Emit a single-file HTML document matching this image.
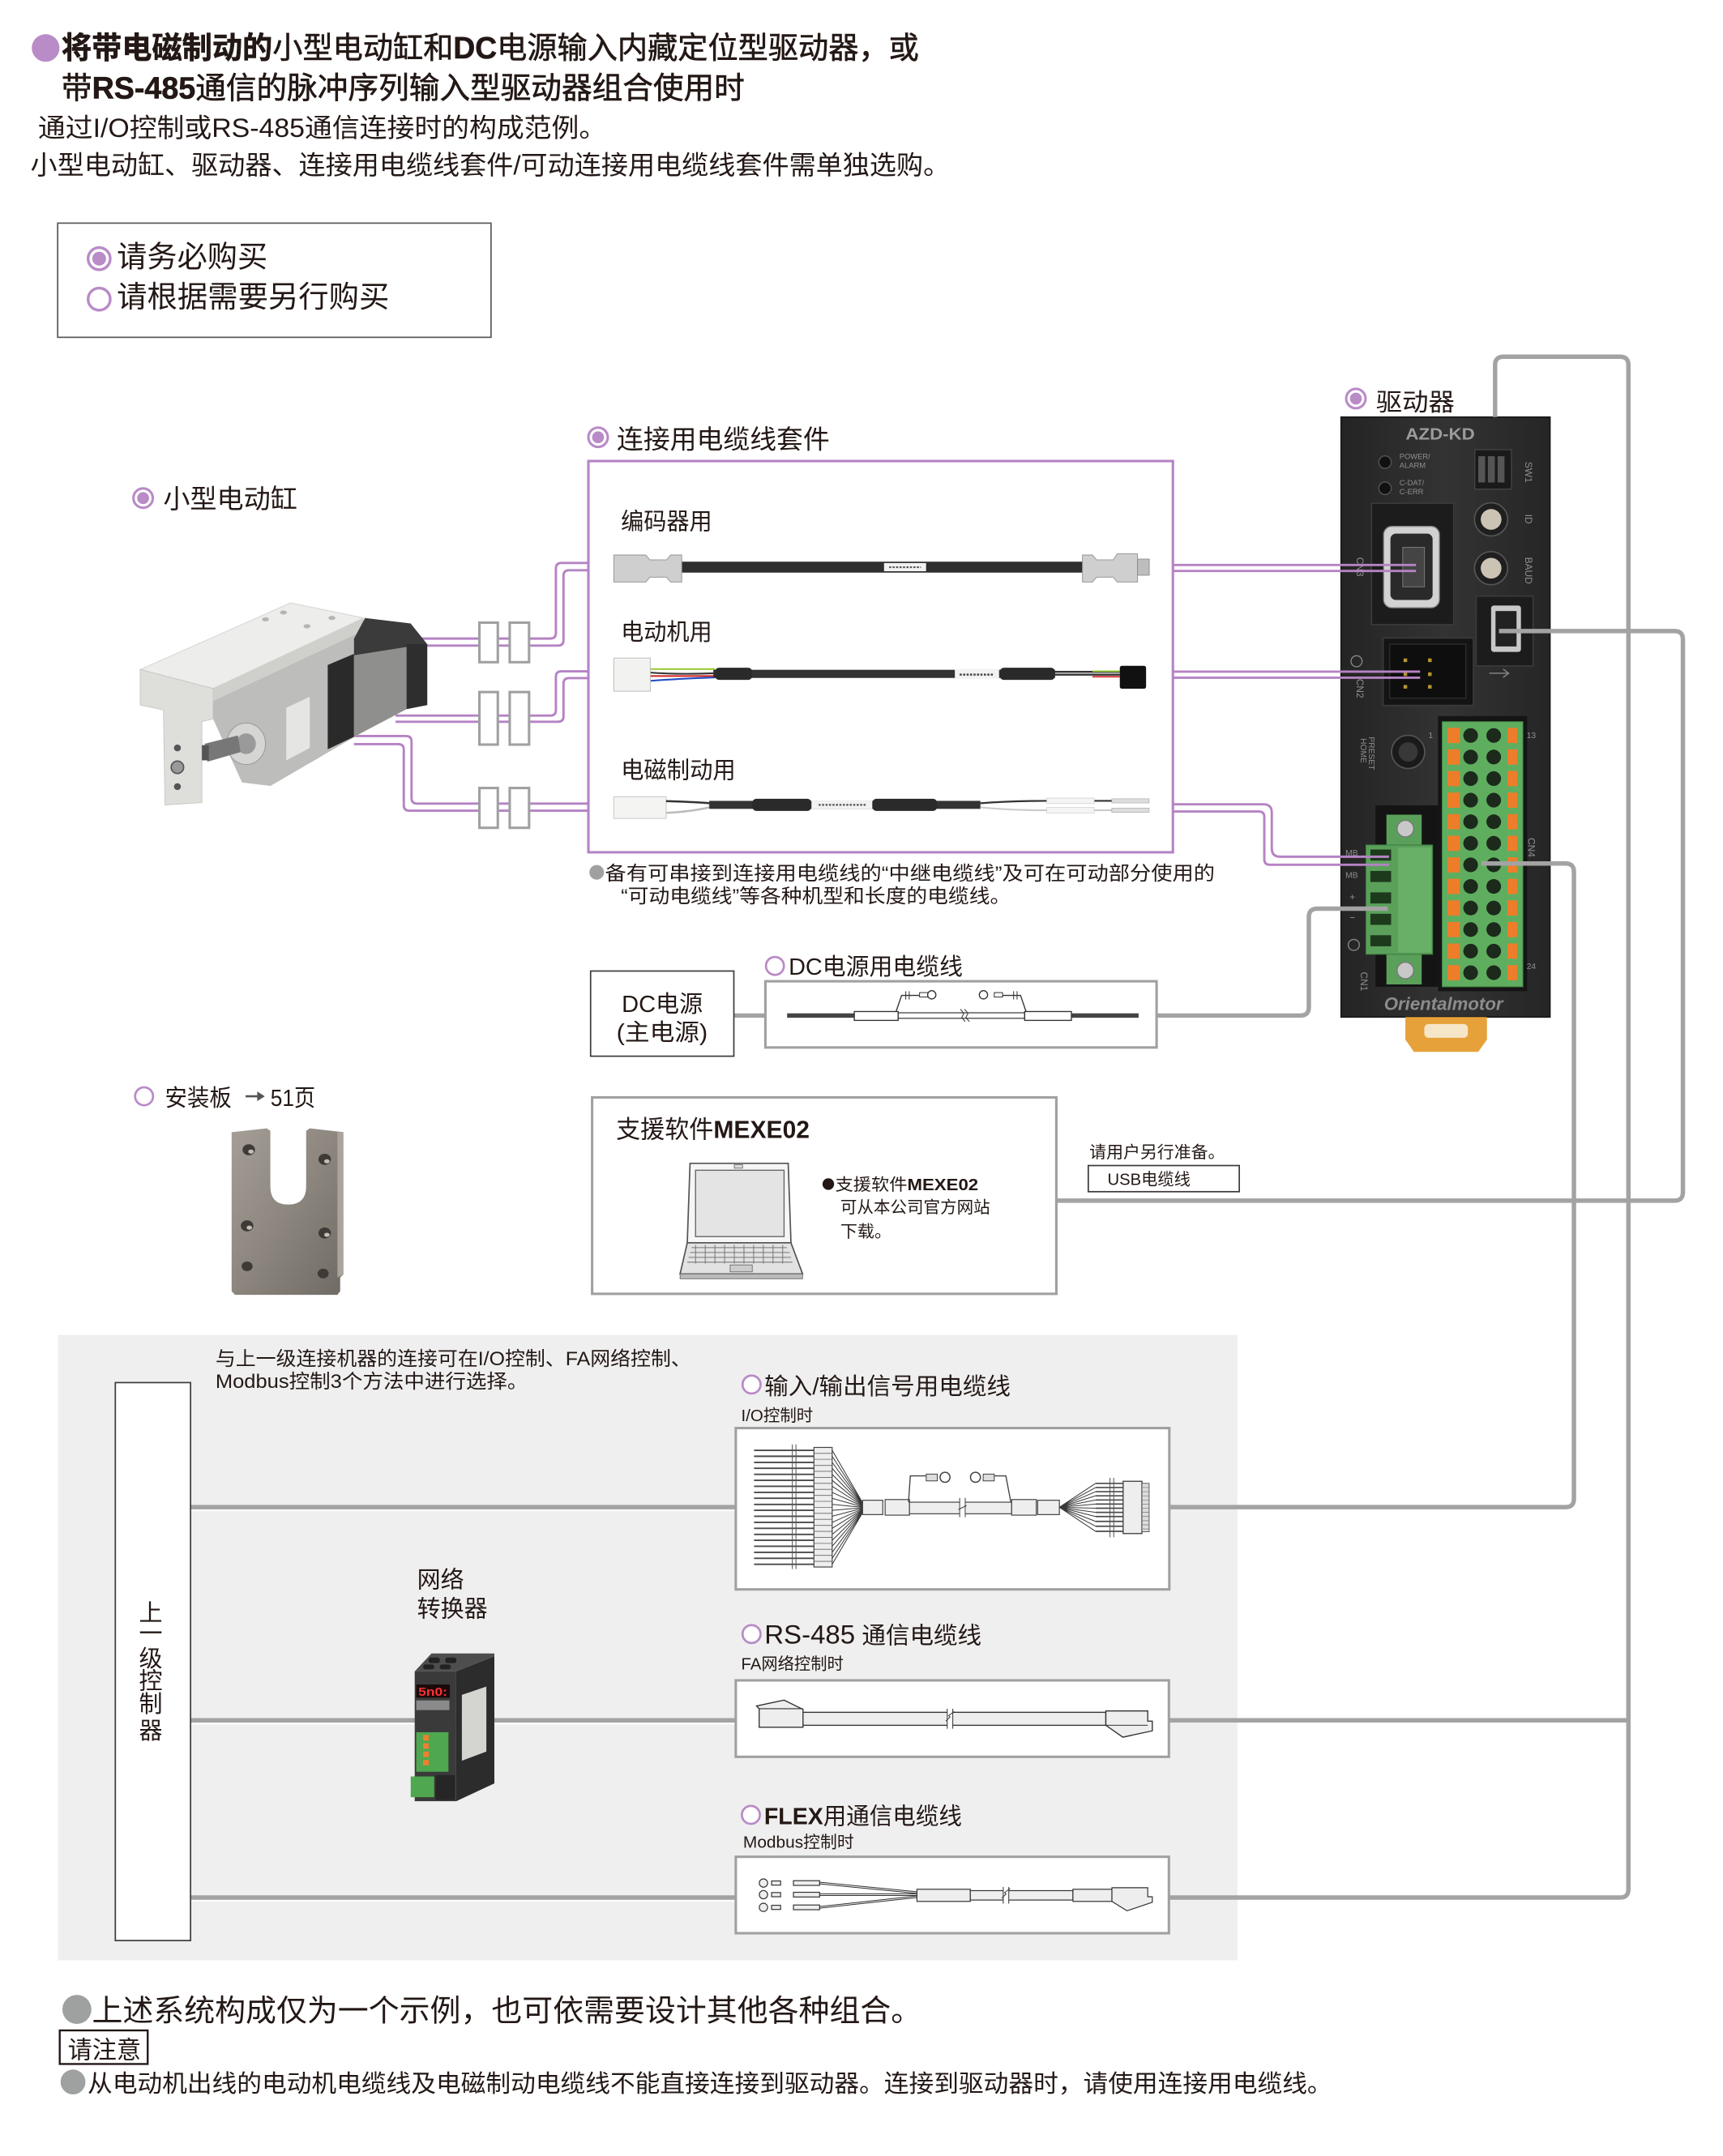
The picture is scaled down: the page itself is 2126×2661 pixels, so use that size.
<!DOCTYPE html>
<html><head><meta charset="utf-8">
<style>
html,body{margin:0;padding:0;background:#fff;}
svg{display:block}
text{font-family:"Liberation Sans","Noto Sans CJK SC",sans-serif;fill:#231815;}
.b{font-weight:bold}
.sm{fill:#8f8f8f;font-family:"Liberation Sans",sans-serif;}
.ln{fill:none;stroke:#444;stroke-width:0.8}
</style></head><body>
<svg xmlns="http://www.w3.org/2000/svg" width="2126" height="2661" viewBox="0 0 1246 1559.55" preserveAspectRatio="none">
<defs>
<linearGradient id="plate" x1="0" y1="0" x2="1" y2="1">
<stop offset="0" stop-color="#a49e96"/><stop offset="0.5" stop-color="#8c867e"/><stop offset="1" stop-color="#6f6a63"/>
</linearGradient>
<linearGradient id="drv" x1="0" y1="0" x2="1" y2="0">
<stop offset="0" stop-color="#242424"/><stop offset="0.5" stop-color="#333"/><stop offset="1" stop-color="#262626"/>
</linearGradient>
</defs>
<rect x="0" y="0" width="1246" height="1560" fill="#fff"/>

<!-- HEADER -->
<circle cx="33" cy="34.7" r="10" fill="#b98bc7"/>
<text x="44.5" y="42.3" font-size="22" textLength="620" lengthAdjust="spacingAndGlyphs" stroke="#231815" stroke-width="0.35"><tspan font-weight="bold">将带电磁制动的</tspan>小型电动缸和<tspan font-weight="bold">DC</tspan>电源输入内藏定位型驱动器，或</text>
<text x="44.5" y="71.3" font-size="22" textLength="494" lengthAdjust="spacingAndGlyphs" stroke="#231815" stroke-width="0.35">带<tspan font-weight="bold">RS-485</tspan>通信的脉冲序列输入型驱动器组合使用时</text>
<text x="27.5" y="99" font-size="19" textLength="411" lengthAdjust="spacingAndGlyphs">通过I/O控制或RS-485通信连接时的构成范例。</text>
<text x="22" y="126" font-size="19" textLength="665" lengthAdjust="spacingAndGlyphs">小型电动缸、驱动器、连接用电缆线套件/可动连接用电缆线套件需单独选购。</text>

<!-- LEGEND -->
<rect x="41.7" y="161.4" width="313.4" height="82.6" fill="none" stroke="#595757" stroke-width="1"/>
<circle cx="71.7" cy="187.1" r="8" fill="#fff" stroke="#b98bc7" stroke-width="2"/>
<circle cx="71.7" cy="187.1" r="5" fill="#b98bc7"/>
<text x="84.5" y="193" font-size="21.5" textLength="109" lengthAdjust="spacingAndGlyphs">请务必购买</text>
<circle cx="71.7" cy="216.4" r="8" fill="#fff" stroke="#b98bc7" stroke-width="2"/>
<text x="84.5" y="222" font-size="21.5" textLength="197" lengthAdjust="spacingAndGlyphs">请根据需要另行购买</text>

<!-- GRAY AREA -->
<rect x="41.9" y="965.7" width="853" height="452.3" fill="#efefef"/>

<!-- DRIVER -->
<rect x="969.8" y="301.7" width="151.1" height="434" fill="url(#drv)" stroke="#181818" stroke-width="1"/>
<text x="1041.5" y="318" font-size="12" font-weight="bold" text-anchor="middle" textLength="50" lengthAdjust="spacingAndGlyphs" style="fill:#9c9c9c">AZD-KD</text>
<circle cx="1001.6" cy="334.3" r="4.5" fill="#111" stroke="#555" stroke-width="0.8"/>
<circle cx="1001.6" cy="353.2" r="4.5" fill="#111" stroke="#555" stroke-width="0.8"/>
<text class="sm" x="1012" y="332" font-size="5.5">POWER/</text>
<text class="sm" x="1012" y="338.5" font-size="5.5">ALARM</text>
<text class="sm" x="1012" y="351" font-size="5.5">C-DAT/</text>
<text class="sm" x="1012" y="357.5" font-size="5.5">C-ERR</text>
<rect x="1066.5" y="325.3" width="26.5" height="28.5" fill="#1a1a1a" stroke="#444" stroke-width="0.8"/>
<rect x="1069" y="330" width="5" height="19" fill="#555"/><rect x="1076" y="330" width="5" height="19" fill="#555"/><rect x="1083" y="330" width="5" height="19" fill="#555"/>
<text class="sm" font-size="7" transform="translate(1103,334) rotate(90)">SW1</text>
<circle cx="1078.3" cy="375.7" r="12" fill="#1f1f1f" stroke="#555" stroke-width="1"/>
<circle cx="1078.3" cy="375.7" r="7.5" fill="#cbc4b4"/>
<circle cx="1078.3" cy="411" r="12" fill="#1f1f1f" stroke="#555" stroke-width="1"/>
<circle cx="1078.3" cy="411" r="7.5" fill="#cbc4b4"/>
<text class="sm" font-size="7" transform="translate(1103,372) rotate(90)">ID</text>
<text class="sm" font-size="7" transform="translate(1103,403) rotate(90)">BAUD</text>
<rect x="991.8" y="364" width="59.5" height="87.8" fill="#1c1c1c" stroke="#3a3a3a" stroke-width="1"/>
<rect x="1000.6" y="380.8" width="40.3" height="58.8" rx="6" fill="#d2d2d2" stroke="#888" stroke-width="0.8"/>
<rect x="1005.5" y="386" width="30.5" height="48" rx="4" fill="#2a2a2a"/>
<rect x="1014.4" y="395.9" width="15.7" height="28.6" fill="#444" stroke="#777" stroke-width="0.6"/>
<text class="sm" font-size="7" transform="translate(981,403) rotate(90)">CN3</text>
<rect x="1067.5" y="431.2" width="41.2" height="50.5" fill="#1c1c1c" stroke="#3a3a3a" stroke-width="1"/>
<rect x="1078.3" y="438" width="21.6" height="33.6" rx="2" fill="#c8c8c8"/>
<rect x="1081.5" y="442" width="15.2" height="25.6" fill="#222"/>
<path d="M1077,487H1091M1087,484L1091,487L1087,490" stroke="#888" stroke-width="0.8" fill="none"/>
<rect x="1000.2" y="461.5" width="65.3" height="48.8" fill="#141414" stroke="#3a3a3a" stroke-width="1"/>
<rect x="1005" y="466" width="55" height="39" fill="#0e0e0e" stroke="#2c2c2c" stroke-width="0.8"/>
<g fill="#b8962e"><rect x="1015" y="476.3" width="2.6" height="2.6"/><rect x="1032.7" y="476.3" width="2.6" height="2.6"/><rect x="1015" y="486.4" width="2.6" height="2.6"/><rect x="1032.7" y="486.4" width="2.6" height="2.6"/><rect x="1015" y="495.5" width="2.6" height="2.6"/><rect x="1032.7" y="495.5" width="2.6" height="2.6"/></g>
<circle cx="981" cy="478.3" r="4" fill="none" stroke="#888" stroke-width="0.8"/>
<text class="sm" font-size="7" transform="translate(981,491) rotate(90)">CN2</text>
<circle cx="1018.3" cy="543.9" r="12" fill="#1a1a1a" stroke="#555" stroke-width="1"/>
<circle cx="1018.3" cy="543.9" r="7" fill="#383838"/>
<text class="sm" font-size="6" transform="translate(984,534) rotate(90)">HOME</text>
<text class="sm" font-size="6" transform="translate(990,533) rotate(90)">PRESET</text>
<rect x="994.7" y="582.6" width="45.2" height="131.2" fill="#141414"/>
<rect x="1002.6" y="589.3" width="25.5" height="22" fill="#5aa05a"/>
<rect x="1002.6" y="690.3" width="25.5" height="21.8" fill="#5aa05a"/>
<circle cx="1016.3" cy="599.4" r="6" fill="#c8c8c8" stroke="#777" stroke-width="0.8"/>
<circle cx="1016.3" cy="702" r="6" fill="#c8c8c8" stroke="#777" stroke-width="0.8"/>
<rect x="987.8" y="611.2" width="48.2" height="79.1" fill="#5aa05a" stroke="#3d7a3d" stroke-width="0.6"/>
<rect x="1011" y="613" width="24" height="76" fill="#68b068"/>
<g fill="#1d3a1d"><rect x="991" y="614.5" width="15" height="8"/><rect x="991" y="630" width="15" height="8"/><rect x="991" y="645.5" width="15" height="8"/><rect x="991" y="661" width="15" height="8"/><rect x="991" y="676.5" width="15" height="8"/></g>
<text class="sm" x="973" y="619" font-size="6">MB</text>
<text class="sm" x="973" y="635" font-size="6">MB</text>
<text class="sm" x="976" y="651" font-size="7">+</text>
<text class="sm" x="976" y="666" font-size="7">−</text>
<circle cx="979" cy="683.5" r="4" fill="none" stroke="#888" stroke-width="0.8"/>
<text class="sm" font-size="7" transform="translate(984,703) rotate(90)">CN1</text>
<rect x="1039.9" y="518" width="64.5" height="199" fill="#151515"/>
<rect x="1042.9" y="522" width="58.4" height="191.8" fill="#5fae5f" stroke="#3f7f3f" stroke-width="0.6"/>
<g fill="#ee7d2a">
<rect x="1046.8" y="526.5" width="8.9" height="11"/><rect x="1046.8" y="542.1" width="8.9" height="11"/><rect x="1046.8" y="557.7" width="8.9" height="11"/><rect x="1046.8" y="573.3" width="8.9" height="11"/><rect x="1046.8" y="588.9" width="8.9" height="11"/><rect x="1046.8" y="604.5" width="8.9" height="11"/><rect x="1046.8" y="620.1" width="8.9" height="11"/><rect x="1046.8" y="635.7" width="8.9" height="11"/><rect x="1046.8" y="651.3" width="8.9" height="11"/><rect x="1046.8" y="666.9" width="8.9" height="11"/><rect x="1046.8" y="682.5" width="8.9" height="11"/><rect x="1046.8" y="698.1" width="8.9" height="11"/>
<rect x="1090.1" y="526.5" width="7" height="11"/><rect x="1090.1" y="542.1" width="7" height="11"/><rect x="1090.1" y="557.7" width="7" height="11"/><rect x="1090.1" y="573.3" width="7" height="11"/><rect x="1090.1" y="588.9" width="7" height="11"/><rect x="1090.1" y="604.5" width="7" height="11"/><rect x="1090.1" y="620.1" width="7" height="11"/><rect x="1090.1" y="635.7" width="7" height="11"/><rect x="1090.1" y="651.3" width="7" height="11"/><rect x="1090.1" y="666.9" width="7" height="11"/><rect x="1090.1" y="682.5" width="7" height="11"/><rect x="1090.1" y="698.1" width="7" height="11"/>
</g>
<g fill="#1c2a1c">
<circle cx="1063.5" cy="532" r="5.3"/><circle cx="1063.5" cy="547.6" r="5.3"/><circle cx="1063.5" cy="563.2" r="5.3"/><circle cx="1063.5" cy="578.8" r="5.3"/><circle cx="1063.5" cy="594.4" r="5.3"/><circle cx="1063.5" cy="610" r="5.3"/><circle cx="1063.5" cy="625.6" r="5.3"/><circle cx="1063.5" cy="641.2" r="5.3"/><circle cx="1063.5" cy="656.8" r="5.3"/><circle cx="1063.5" cy="672.4" r="5.3"/><circle cx="1063.5" cy="688" r="5.3"/><circle cx="1063.5" cy="703.6" r="5.3"/>
<circle cx="1080.2" cy="532" r="5.3"/><circle cx="1080.2" cy="547.6" r="5.3"/><circle cx="1080.2" cy="563.2" r="5.3"/><circle cx="1080.2" cy="578.8" r="5.3"/><circle cx="1080.2" cy="594.4" r="5.3"/><circle cx="1080.2" cy="610" r="5.3"/><circle cx="1080.2" cy="625.6" r="5.3"/><circle cx="1080.2" cy="641.2" r="5.3"/><circle cx="1080.2" cy="656.8" r="5.3"/><circle cx="1080.2" cy="672.4" r="5.3"/><circle cx="1080.2" cy="688" r="5.3"/><circle cx="1080.2" cy="703.6" r="5.3"/>
</g>
<text class="sm" x="1033" y="534" font-size="6">1</text>
<text class="sm" x="1104" y="534" font-size="6">13</text>
<text class="sm" x="1104" y="701" font-size="6">24</text>
<text class="sm" font-size="7" transform="translate(1105,606) rotate(90)">CN4</text>
<text x="1043.9" y="730.5" font-size="13" font-weight="bold" font-style="italic" text-anchor="middle" textLength="86" lengthAdjust="spacingAndGlyphs" style="fill:#8c8c8c">Orientalmotor</text>
<path d="M1016.3,735.7H1075.3V752L1069,760.9H1022.5L1016.3,752Z" fill="#e6a13a"/>
<rect x="1030" y="740.7" width="31.5" height="10" rx="3" fill="#f6e6c8"/>

<!-- GRAY CONNECTORS -->
<g fill="none" stroke="#a3a3a3" stroke-width="3.2">
<path d="M1081.2,301.7V264Q1081.2,258 1087.2,258H1171.6Q1177.6,258 1177.6,264V1366.6Q1177.6,1372.6 1171.6,1372.6H845.6"/>
<path d="M845.6,1244.4H1177.6"/>
<path d="M1084,456.5H1211Q1217,456.5 1217,462.5V862.5Q1217,868.5 1211,868.5H763.9"/>
<path d="M1071.4,624.6H1132.2Q1138.2,624.6 1138.2,630.6V1084.2Q1138.2,1090.2 1132.2,1090.2H845.6"/>
<path d="M836.4,734.6H940.5Q946.5,734.6 946.5,728.6V663.3Q946.5,657.3 952.5,657.3H1003.6"/>
<path d="M530.7,734.6H553.5"/>
<path d="M137.8,1090.2H532.6"/>
<path d="M137.8,1244.4H532.6"/>
<path d="M137.8,1372.6H532.6"/>
</g>
<g fill="none" stroke="#fff" stroke-width="1">
<path d="M137.8,1092.6H532.6"/><path d="M137.8,1246.8H532.6"/><path d="M137.8,1375H532.6"/>
</g>

<!-- PURPLE CONNECTORS -->
<g fill="none" stroke="#b583c4" stroke-width="1.7">
<path d="M305,461.9H346.7M360,461.9H368.6M382.6,461.9H398Q402,461.9 402,457.9V411.2Q402,407.2 406,407.2H425.5"/>
<path d="M305,467H346.7M360,467H368.6M382.6,467H403.5Q407.5,467 407.5,463V416.5Q407.5,412.5 411.5,412.5H425.5"/>
<path d="M286,517.6H346.7M360,517.6H368.6M382.6,517.6H398Q402,517.6 402,513.6V489.6Q402,485.6 406,485.6H425.5"/>
<path d="M286,522.1H346.7M360,522.1H368.6M382.6,522.1H403.5Q407.5,522.1 407.5,518.1V494.5Q407.5,490.5 411.5,490.5H425.5"/>
<path d="M256,532.4H293.6Q297.6,532.4 297.6,536.4V577.3Q297.6,581.3 301.6,581.3H346.7M360,581.3H368.6M382.6,581.3H425.5"/>
<path d="M256,538.3H288Q292,538.3 292,542.3V582.4Q292,586.4 296,586.4H346.7M360,586.4H368.6M382.6,586.4H425.5"/>
<path d="M848.2,408.7H1024"/>
<path d="M848.2,413H1024"/>
<path d="M848.2,485.8H1027"/>
<path d="M848.2,490.2H1027"/>
<path d="M848.2,581.8H913.7Q919.7,581.8 919.7,587.8V613.7Q919.7,619.7 925.7,619.7H1004.5"/>
<path d="M848.2,587H910.3Q914.3,587 914.3,591V621.5Q914.3,625.5 918.3,625.5H1004.5"/>
</g>

<!-- ACTUATOR -->
<polygon points="101.4,484.3 210.1,436.1 263,447 154.1,498" fill="#ededeb" stroke="#d0d0ce" stroke-width="0.5"/>
<polygon points="101.4,484.3 154.1,498 154.1,520 146,522 146,580.6 119.3,582.3 118.2,513.5 101.4,510" fill="#dededa" stroke="#c4c4c0" stroke-width="0.5"/>
<polygon points="154.1,498 263,447 263,456 154.1,507" fill="#cfcfcc"/>
<polygon points="154.1,507 263,456 296,466 296,510 195.6,568.5 175,566 154.1,520" fill="#bdbdbb"/>
<polygon points="237,481 256,473 256,533 237,542" fill="#2a2a2a"/>
<polygon points="256,473 294,466 294,513 256,533" fill="#8f8f8d"/>
<polygon points="256,462 264,447 297,451 309,466 294,468 256,474" fill="#3b3b3b"/>
<polygon points="294,466 309,466 309,510 294,513" fill="#2e2e2e"/>
<polygon points="207,512 224,504 224,541 207,550" fill="#e5e5e3"/>
<ellipse cx="178" cy="538" rx="14" ry="15" fill="#d5d5d3" stroke="#999" stroke-width="0.6"/>
<ellipse cx="178" cy="538" rx="7" ry="7.5" fill="#9a9a9a"/>
<polygon points="148,538 172,532 174,544 150,551" fill="#777"/>
<rect x="146" y="539" width="5" height="11" fill="#555"/>
<circle cx="128.3" cy="541" r="2.5" fill="#555"/>
<circle cx="128.3" cy="555" r="4.5" fill="#999" stroke="#555" stroke-width="1"/>
<circle cx="128.3" cy="569" r="2.5" fill="#555"/>
<g fill="#b5b5b3"><ellipse cx="192" cy="448" rx="2.5" ry="1.5"/><ellipse cx="205" cy="443" rx="2.5" ry="1.5"/><ellipse cx="222" cy="453" rx="2.5" ry="1.5"/><ellipse cx="240" cy="447" rx="2.5" ry="1.5"/></g>

<!-- LABELS: actuator / kit / driver -->
<circle cx="103.5" cy="360.3" r="7" fill="#fff" stroke="#b98bc7" stroke-width="1.8"/>
<circle cx="103.5" cy="360.3" r="4.3" fill="#b98bc7"/>
<text x="118" y="367.5" font-size="19" textLength="97" lengthAdjust="spacingAndGlyphs">小型电动缸</text>
<circle cx="432.5" cy="316.3" r="7" fill="#fff" stroke="#b98bc7" stroke-width="1.8"/>
<circle cx="432.5" cy="316.3" r="4.3" fill="#b98bc7"/>
<text x="446" y="324.5" font-size="19" textLength="154" lengthAdjust="spacingAndGlyphs">连接用电缆线套件</text>
<circle cx="980.5" cy="288.3" r="7" fill="#fff" stroke="#b98bc7" stroke-width="1.8"/>
<circle cx="980.5" cy="288.3" r="4.3" fill="#b98bc7"/>
<text x="995" y="297" font-size="18" textLength="57" lengthAdjust="spacingAndGlyphs">驱动器</text>

<!-- KIT BOX -->
<rect x="425.5" y="333.5" width="422.7" height="283" fill="#fff" stroke="#b583c4" stroke-width="1.8"/>
<text x="449" y="383" font-size="17" textLength="66" lengthAdjust="spacingAndGlyphs">编码器用</text>
<text x="449" y="463" font-size="17" textLength="66" lengthAdjust="spacingAndGlyphs">电动机用</text>
<text x="449" y="563" font-size="17" textLength="83" lengthAdjust="spacingAndGlyphs">电磁制动用</text>
<!-- encoder cable -->
<rect x="493" y="406.3" width="290" height="7.9" fill="#2e2e2e"/>
<rect x="639.3" y="407.3" width="30.4" height="5.9" fill="#f2f2f2"/>
<path d="M643,410.3H666" stroke="#555" stroke-width="1.2" stroke-dasharray="1.5,1"/>
<polygon points="443.9,401.5 467,401.5 470,405 482,405 485,401.5 493,401.5 493,421 485,421 482,417.5 470,417.5 467,421 443.9,421" fill="#cfcfcf" stroke="#9a9a9a" stroke-width="0.6"/>
<polygon points="782.8,401.5 790,401.5 793,405 805,405 808,400.5 822.6,400.5 822.6,421 808,421 805,417.5 793,417.5 790,421 782.8,421" fill="#cfcfcf" stroke="#9a9a9a" stroke-width="0.6"/>
<rect x="822.6" y="404.4" width="8.5" height="11.7" fill="#bdbdbd" stroke="#888" stroke-width="0.5"/>
<!-- motor cable -->
<path d="M470,484H517" stroke="#9acd32" stroke-width="1.2"/>
<path d="M470,486.5Q490,488 517,487" stroke="#333" stroke-width="1.2" fill="none"/>
<path d="M470,489H517" stroke="#d02020" stroke-width="1.2"/>
<path d="M470,492.5Q490,491 517,490" stroke="#2050c0" stroke-width="1.2" fill="none"/>
<rect x="443.9" y="476" width="26.4" height="24" fill="#f2f2f0" stroke="#c0c0c0" stroke-width="0.6"/>
<rect x="515.8" y="484.5" width="247.2" height="5.9" fill="#333"/>
<rect x="517" y="483" width="27" height="8.8" rx="3" fill="#2a2a2a"/>
<rect x="723" y="483" width="40" height="8.8" rx="3" fill="#2a2a2a"/>
<rect x="690.5" y="484" width="32" height="7" fill="#f2f2f2"/>
<path d="M694,488H719" stroke="#444" stroke-width="1.5" stroke-dasharray="1.5,1"/>
<path d="M763,486H809.8M763,488H809.8" stroke="#333" stroke-width="1.4"/>
<path d="M790,485.5H809.8" stroke="#9acd32" stroke-width="1"/>
<path d="M790,489.5H809.8" stroke="#d02020" stroke-width="1"/>
<rect x="809.8" y="481.6" width="19" height="16.6" rx="1.5" fill="#111"/>
<!-- brake cable -->
<rect x="443.9" y="576.3" width="37.8" height="15.7" fill="#f4f4f2" stroke="#c8c8c8" stroke-width="0.6"/>
<path d="M481.7,579.5Q500,580 513,581" stroke="#333" stroke-width="1.5" fill="none"/>
<path d="M481.7,588Q500,587 513,584" stroke="#bbb" stroke-width="1.5" fill="none"/>
<rect x="512.9" y="579.3" width="196.1" height="5.8" fill="#333"/>
<rect x="544" y="577.8" width="42.8" height="8.8" rx="3" fill="#2a2a2a"/>
<rect x="630.8" y="577.8" width="46.9" height="8.8" rx="3" fill="#2a2a2a"/>
<rect x="586.8" y="579.3" width="44" height="5.8" fill="#f2f2f2"/>
<path d="M592,582.2H626" stroke="#555" stroke-width="1.3" stroke-dasharray="1.5,1"/>
<path d="M709,581Q730,579.3 757,579.3H831" stroke="#333" stroke-width="1.3" fill="none"/>
<path d="M709,584Q730,586.1 757,586.1H831" stroke="#ccc" stroke-width="1.3" fill="none"/>
<rect x="757" y="577.3" width="34.3" height="4" fill="#f4f4f4" stroke="#ccc" stroke-width="0.4"/>
<rect x="757" y="584.1" width="34.3" height="4" fill="#f4f4f4" stroke="#ccc" stroke-width="0.4"/>
<rect x="804" y="577.8" width="27" height="3" fill="#ddd" stroke="#aaa" stroke-width="0.4"/>
<rect x="804" y="584.6" width="27" height="3" fill="#ddd" stroke="#aaa" stroke-width="0.4"/>

<!-- left connector boxes -->
<g fill="#fff" stroke="#9fa0a0" stroke-width="1.8">
<rect x="346.7" y="450.4" width="13.3" height="28.6"/><rect x="368.6" y="450.4" width="14" height="28.6"/>
<rect x="346.7" y="500.6" width="13.3" height="38"/><rect x="368.6" y="500.6" width="14" height="38"/>
<rect x="346.7" y="570" width="13.3" height="28.8"/><rect x="368.6" y="570" width="14" height="28.8"/>
</g>

<!-- NOTE -->
<circle cx="431.5" cy="631" r="5.3" fill="#9fa0a0"/>
<text x="437.5" y="636.5" font-size="14" textLength="441" lengthAdjust="spacingAndGlyphs">备有可串接到连接用电缆线的“中继电缆线”及可在可动部分使用的</text>
<text x="449" y="653" font-size="14" textLength="282" lengthAdjust="spacingAndGlyphs">“可动电缆线”等各种机型和长度的电缆线。</text>

<!-- DC POWER -->
<rect x="427.1" y="702.4" width="103.6" height="61.6" fill="#fff" stroke="#3e3a39" stroke-width="1"/>
<text x="449.6" y="732" font-size="17" textLength="58.6" lengthAdjust="spacingAndGlyphs">DC电源</text>
<text x="445.8" y="752.5" font-size="17" textLength="66" lengthAdjust="spacingAndGlyphs">(主电源)</text>
<circle cx="560.4" cy="698.7" r="6.5" fill="#fff" stroke="#b98bc7" stroke-width="1.6"/>
<text x="570.3" y="705" font-size="17" textLength="126" lengthAdjust="spacingAndGlyphs">DC电源用电缆线</text>
<rect x="553.5" y="709.8" width="282.9" height="47.9" fill="#fff" stroke="#9fa0a0" stroke-width="1.8"/>
<rect x="569.2" y="733" width="48.6" height="3.2" fill="#444"/>
<rect x="774.8" y="733" width="48.6" height="3.2" fill="#444"/>
<rect x="649.5" y="732.6" width="91.5" height="4" fill="#fff" stroke="#333" stroke-width="0.7"/>
<rect x="617.8" y="731.7" width="31.7" height="6.4" fill="#fff" stroke="#333" stroke-width="0.8"/>
<rect x="741" y="731.7" width="33.8" height="6.4" fill="#fff" stroke="#333" stroke-width="0.8"/>
<path d="M694.5,730L697,733L695.5,736L698,739M697.5,730L700,733L698.5,736L701,739" stroke="#333" stroke-width="0.6" fill="none"/>
<path d="M648,731.7L652,720H665M742,731.7L738,720H725" stroke="#333" stroke-width="0.8" fill="none"/>
<path d="M655,717V723M657.5,717V723M733,717V723M735.5,717V723" stroke="#333" stroke-width="0.6"/>
<rect x="665" y="718" width="6" height="3.2" fill="#fff" stroke="#333" stroke-width="0.6"/>
<rect x="719" y="718" width="6" height="3.2" fill="#fff" stroke="#333" stroke-width="0.6"/>
<circle cx="673.8" cy="719.6" r="3" fill="#fff" stroke="#333" stroke-width="0.8"/>
<circle cx="711.2" cy="719.6" r="3" fill="#fff" stroke="#333" stroke-width="0.8"/>

<!-- SOFTWARE -->
<rect x="428.2" y="793.8" width="335.7" height="142.1" fill="#fff" stroke="#9fa0a0" stroke-width="1.8"/>
<text x="445.5" y="823" font-size="18" textLength="140" lengthAdjust="spacingAndGlyphs">支援软件<tspan font-weight="bold">MEXE02</tspan></text>
<polygon points="499,841.5 570,841.5 572,899 497,899" fill="#f6f6f6" stroke="#555" stroke-width="1"/>
<rect x="503" y="846.5" width="64" height="48" fill="#e4e4e4" stroke="#666" stroke-width="0.8"/>
<rect x="531" y="842.5" width="6" height="2.5" fill="#ddd" stroke="#666" stroke-width="0.5"/>
<polygon points="497,899 572,899 580.4,921.5 491.8,921.5" fill="#e2e2e2" stroke="#555" stroke-width="1"/>
<path d="M500,902.5H569M499,906H571M498,909.5H572M497,913H573M503,900.5V914M510,900.5V914M517,900.5V914M524,900.5V914M531,900.5V914M538,900.5V914M545,900.5V914M552,900.5V914M559,900.5V914M566,900.5V914" stroke="#777" stroke-width="0.6"/>
<rect x="528" y="915" width="16" height="5" fill="#ccc" stroke="#666" stroke-width="0.5"/>
<rect x="491.8" y="921.5" width="88.6" height="3.5" fill="#bbb" stroke="#666" stroke-width="0.5"/>
<circle cx="599" cy="856.5" r="4.2" fill="#231815"/>
<text x="604" y="861" font-size="12" textLength="103.5" lengthAdjust="spacingAndGlyphs">支援软件<tspan font-weight="bold">MEXE02</tspan></text>
<text x="607.7" y="877.5" font-size="12" textLength="108.3" lengthAdjust="spacingAndGlyphs">可从本公司官方网站</text>
<text x="607.7" y="895" font-size="12" textLength="37" lengthAdjust="spacingAndGlyphs">下载。</text>
<text x="787.8" y="837.5" font-size="12" textLength="98" lengthAdjust="spacingAndGlyphs">请用户另行准备。</text>
<rect x="787" y="843.1" width="109.2" height="18.9" fill="#fff" stroke="#3e3a39" stroke-width="1"/>
<text x="800.9" y="857" font-size="12" textLength="60" lengthAdjust="spacingAndGlyphs">USB电缆线</text>

<!-- MOUNTING PLATE -->
<circle cx="104.2" cy="793" r="6.5" fill="#fff" stroke="#b98bc7" stroke-width="1.6"/>
<text x="119.3" y="800" font-size="17" textLength="48.2" lengthAdjust="spacingAndGlyphs">安装板</text>
<path d="M177.6,793H187" stroke="#555" stroke-width="1.6"/>
<polygon points="186,789.5 191.5,793 186,796.5" fill="#555"/>
<text x="195.6" y="800" font-size="17" textLength="32.5" lengthAdjust="spacingAndGlyphs">51页</text>
<path d="M167.5,819L193,816.2L195.5,818V858Q195.5,871.3 208.3,871.3Q221.4,871.3 221.4,858V818L224,816.2L248.3,819V922L246,924V934L244,936.6H170L167.5,934Z" fill="url(#plate)"/>
<polygon points="244,819 248.3,819 248.3,922 244,924" fill="#aaa49c"/>
<g fill="#3e3a36">
<ellipse cx="179.9" cy="831.7" rx="4.5" ry="4"/><ellipse cx="234.8" cy="838.6" rx="4.5" ry="4"/>
<ellipse cx="178.7" cy="886.7" rx="4.5" ry="4"/><ellipse cx="234.8" cy="891.9" rx="4.5" ry="4"/>
<ellipse cx="178.7" cy="916" rx="4" ry="3.5"/><ellipse cx="233.7" cy="921.2" rx="4" ry="3.5"/>
</g>
<g fill="#c4beb6"><ellipse cx="181.5" cy="833" rx="2" ry="1.5"/><ellipse cx="236.4" cy="840" rx="2" ry="1.5"/><ellipse cx="180.3" cy="888" rx="2" ry="1.5"/><ellipse cx="236.4" cy="893.2" rx="2" ry="1.5"/></g>

<!-- GRAY AREA CONTENT -->
<text x="155.8" y="987.5" font-size="14" textLength="344" lengthAdjust="spacingAndGlyphs">与上一级连接机器的连接可在I/O控制、FA网络控制、</text>
<text x="155.8" y="1004" font-size="14" textLength="226" lengthAdjust="spacingAndGlyphs">Modbus控制3个方法中进行选择。</text>
<rect x="83.4" y="1000.1" width="54.4" height="403.6" fill="#fff" stroke="#3e3a39" stroke-width="1"/>
<g font-size="17" text-anchor="middle">
<text x="109" y="1172.5">上</text>
<text x="109" y="1187.5">一</text>
<text x="109" y="1205.5">级</text>
<text x="109" y="1221.8">控</text>
<text x="109" y="1238.3">制</text>
<text x="109" y="1257.7">器</text>
</g>
<text x="301.6" y="1148.5" font-size="17" textLength="34" lengthAdjust="spacingAndGlyphs">网络</text>
<text x="301.6" y="1169.5" font-size="17" textLength="51" lengthAdjust="spacingAndGlyphs">转换器</text>
<!-- converter -->
<rect x="299.9" y="1209" width="30" height="93.9" fill="#3a3a3a"/>
<polygon points="329.9,1209 357.5,1198 357.5,1290 329.9,1302.9" fill="#2c2c2c"/>
<polygon points="299.9,1209 312,1196 357.5,1196 357.5,1198 329.9,1209" fill="#4e4e4e"/>
<g fill="#222"><rect x="310" y="1199" width="8" height="4" rx="1.5"/><rect x="322" y="1199" width="8" height="4" rx="1.5"/><rect x="306" y="1204" width="8" height="3.5" rx="1.5"/><rect x="318" y="1204" width="8" height="3.5" rx="1.5"/></g>
<rect x="301" y="1218.5" width="24.3" height="9.5" fill="#1a0a0a"/>
<text x="302.5" y="1226.8" font-size="8.5" font-weight="bold" textLength="21" lengthAdjust="spacingAndGlyphs" style="fill:#ff3030">5n0:</text>
<rect x="301" y="1230" width="24" height="7" fill="#8a8a8a"/>
<polygon points="334,1226 351.7,1220 351.7,1267 334,1273.6" fill="#d4d4d0"/>
<rect x="301" y="1253" width="23.3" height="28.6" fill="#4fa84f"/>
<g fill="#f08030"><rect x="306" y="1255" width="4" height="4"/><rect x="306" y="1261" width="4" height="4"/><rect x="306" y="1267" width="4" height="4"/><rect x="306" y="1273" width="4" height="4"/></g>
<rect x="297" y="1285" width="17" height="15" fill="#4fa84f"/>
<rect x="315" y="1284" width="14" height="18" fill="#262626"/>
<!-- IO cable -->
<circle cx="543.5" cy="1001.5" r="6.5" fill="#fff" stroke="#b98bc7" stroke-width="1.6"/>
<text x="552.8" y="1008.5" font-size="17" textLength="178" lengthAdjust="spacingAndGlyphs">输入/输出信号用电缆线</text>
<text x="536" y="1028" font-size="12" textLength="52" lengthAdjust="spacingAndGlyphs">I/O控制时</text>
<rect x="532.1" y="1033" width="313.5" height="116.7" fill="#fff" stroke="#9fa0a0" stroke-width="1.8"/>
<path d="M545.3,1049.1H589M545.3,1053.4H589M545.3,1057.8H589M545.3,1062.1H589M545.3,1066.5H589M545.3,1070.8H589M545.3,1075.1H589M545.3,1079.5H589M545.3,1083.8H589M545.3,1088.2H589M545.3,1092.5H589M545.3,1096.8H589M545.3,1101.2H589M545.3,1105.5H589M545.3,1109.9H589M545.3,1114.2H589M545.3,1118.5H589M545.3,1122.9H589M545.3,1127.2H589M545.3,1131.5H589" stroke="#4a4a4a" stroke-width="1.1"/>
<path d="M573,1044.8V1135M575.6,1044.8V1135" stroke="#555" stroke-width="0.6"/>
<rect x="588.6" y="1047" width="13.2" height="86.5" fill="#eee" stroke="#444" stroke-width="0.7"/>
<path d="M588.6,1051.3H601.8M588.6,1055.6H601.8M588.6,1060H601.8M588.6,1064.3H601.8M588.6,1068.7H601.8M588.6,1073H601.8M588.6,1077.3H601.8M588.6,1081.7H601.8M588.6,1086H601.8M588.6,1090.4H601.8M588.6,1094.7H601.8M588.6,1099H601.8M588.6,1103.4H601.8M588.6,1107.7H601.8M588.6,1112.1H601.8M588.6,1116.4H601.8M588.6,1120.7H601.8M588.6,1125.1H601.8M588.6,1129.4H601.8" stroke="#666" stroke-width="0.5"/>
<path d="M601.8,1049.1L623.8,1087M601.8,1053.4L623.8,1087.4M601.8,1057.8L623.8,1087.8M601.8,1062.1L623.8,1088.1M601.8,1066.5L623.8,1088.5M601.8,1070.8L623.8,1088.9M601.8,1075.1L623.8,1089.3M601.8,1079.5L623.8,1089.6M601.8,1083.8L623.8,1090M601.8,1088.2L623.8,1090.3M601.8,1092.5L623.8,1090.6M601.8,1096.8L623.8,1091M601.8,1101.2L623.8,1091.4M601.8,1105.5L623.8,1091.8M601.8,1109.9L623.8,1092.2M601.8,1114.2L623.8,1092.6M601.8,1118.5L623.8,1093M601.8,1122.9L623.8,1093.4M601.8,1127.2L623.8,1093.8M601.8,1131.5L623.8,1094.2" stroke="#3a3a3a" stroke-width="0.6"/>
<rect x="623.8" y="1085.2" width="14.6" height="10.4" fill="#eee" stroke="#444" stroke-width="0.7"/>
<rect x="640.1" y="1084.7" width="17.6" height="11.3" fill="#eee" stroke="#444" stroke-width="0.7"/>
<rect x="657.7" y="1086.6" width="73.9" height="8.4" fill="#eee" stroke="#444" stroke-width="0.7"/>
<rect x="731.6" y="1084.7" width="17.8" height="11.3" fill="#eee" stroke="#444" stroke-width="0.7"/>
<rect x="750.4" y="1085.2" width="15.7" height="10.4" fill="#eee" stroke="#444" stroke-width="0.7"/>
<rect x="694" y="1084" width="4" height="13" fill="#fff"/>
<path d="M694,1083.5V1097.5M698,1083.5V1097.5M693,1092L699,1089" stroke="#444" stroke-width="0.6"/>
<path d="M657,1086.6L658.3,1067.6H669.8M731,1086.6L727.4,1067.6H719" stroke="#444" stroke-width="0.8" fill="none"/>
<rect x="669.8" y="1066.3" width="8" height="4.9" fill="#ddd" stroke="#444" stroke-width="0.6"/>
<rect x="711" y="1066.3" width="8" height="4.9" fill="#ddd" stroke="#444" stroke-width="0.6"/>
<circle cx="683.4" cy="1068.6" r="3.6" fill="#fff" stroke="#444" stroke-width="0.9"/>
<circle cx="705.4" cy="1068.6" r="3.6" fill="#fff" stroke="#444" stroke-width="0.9"/>
<path d="M766.1,1090.3L792.3,1073M766.1,1090.3L792.3,1076M766.1,1090.3L792.3,1079M766.1,1090.3L792.3,1082M766.1,1090.3L792.3,1085M766.1,1090.3L792.3,1088M766.1,1090.3L792.3,1091M766.1,1090.3L792.3,1094M766.1,1090.3L792.3,1097M766.1,1090.3L792.3,1100.5M766.1,1090.3L792.3,1104M766.1,1090.3L792.3,1107.7" stroke="#3a3a3a" stroke-width="0.6"/>
<path d="M792.3,1073H812M792.3,1076H812M792.3,1079H812M792.3,1082H812M792.3,1085H812M792.3,1088H812M792.3,1091H812M792.3,1094H812M792.3,1097H812M792.3,1100.5H812M792.3,1104H812M792.3,1107.7H812" stroke="#4a4a4a" stroke-width="1"/>
<path d="M802.7,1069V1112M805.4,1069V1112" stroke="#555" stroke-width="0.6"/>
<rect x="812.2" y="1071.5" width="13.6" height="37.8" fill="#eee" stroke="#444" stroke-width="0.8"/>
<rect x="825.8" y="1073" width="5.2" height="35" fill="#ddd" stroke="#444" stroke-width="0.5"/>
<path d="M825.8,1076H831M825.8,1079H831M825.8,1082H831M825.8,1085H831M825.8,1088H831M825.8,1091H831M825.8,1094H831M825.8,1097H831M825.8,1100H831M825.8,1103H831M825.8,1106H831" stroke="#777" stroke-width="0.4"/>
<!-- RS-485 cable -->
<circle cx="543.5" cy="1182" r="6.5" fill="#fff" stroke="#b98bc7" stroke-width="1.6"/>
<text x="552.8" y="1189" font-size="17" textLength="157" lengthAdjust="spacingAndGlyphs"><tspan font-size="19">RS-485</tspan> 通信电缆线</text>
<text x="536" y="1207.5" font-size="12" textLength="74" lengthAdjust="spacingAndGlyphs">FA网络控制时</text>
<rect x="532.1" y="1215.5" width="313.2" height="55.3" fill="#fff" stroke="#9fa0a0" stroke-width="1.8"/>
<rect x="580.7" y="1238.6" width="219" height="9.4" fill="#eee" stroke="#333" stroke-width="0.8"/>
<rect x="685" y="1236" width="4" height="14.5" fill="#fff"/>
<path d="M685,1236V1250.5M689,1236V1250.5M684,1245L687,1242L686,1241L690,1238" stroke="#333" stroke-width="0.6" fill="none"/>
<polygon points="547.1,1234 567,1229.8 580.7,1236.5 580.7,1249.4 549,1249.4 549,1236" fill="#eee" stroke="#333" stroke-width="0.8"/>
<path d="M549,1236H580.7" stroke="#333" stroke-width="0.6"/>
<polygon points="799.7,1237.6 830,1237.6 830,1245 833.3,1245 833.3,1252 812,1256.6 799.7,1248" fill="#eee" stroke="#333" stroke-width="0.8"/>
<path d="M799.7,1248H830" stroke="#333" stroke-width="0.6"/>
<!-- FLEX cable -->
<circle cx="543" cy="1312.8" r="6.5" fill="#fff" stroke="#b98bc7" stroke-width="1.6"/>
<text x="552.6" y="1319.5" font-size="17" textLength="143" lengthAdjust="spacingAndGlyphs"><tspan font-weight="bold">FLEX</tspan>用通信电缆线</text>
<text x="537.4" y="1336.5" font-size="12" textLength="80.2" lengthAdjust="spacingAndGlyphs">Modbus控制时</text>
<rect x="532.1" y="1343.1" width="313.2" height="55.3" fill="#fff" stroke="#9fa0a0" stroke-width="1.8"/>
<path d="M592.7,1362.1L663.1,1369M592.7,1370.5L663.1,1370.5M592.7,1379.7L663.1,1372" stroke="#333" stroke-width="1.8"/>
<path d="M592.7,1362.1L663.1,1369M592.7,1370.5L663.1,1370.5M592.7,1379.7L663.1,1372" stroke="#eee" stroke-width="0.6"/>
<g fill="#eee" stroke="#333" stroke-width="0.7">
<rect x="573.8" y="1360.4" width="18.9" height="3.4"/><rect x="573.8" y="1368.8" width="18.9" height="3.4"/><rect x="573.8" y="1378" width="18.9" height="3.4"/>
<rect x="558" y="1360.6" width="6.5" height="3"/><rect x="558" y="1369" width="6.5" height="3"/><rect x="558" y="1378.2" width="6.5" height="3"/>
<circle cx="552.1" cy="1362.1" r="3"/><circle cx="552.1" cy="1370.5" r="3"/><circle cx="552.1" cy="1379.7" r="3"/>
<rect x="663.1" y="1366.6" width="38.6" height="8.8"/>
<rect x="701.7" y="1367.6" width="74.2" height="6.8"/>
<rect x="775.9" y="1366.6" width="28.2" height="8.8"/>
<polygon points="804.1,1365.5 830,1365.5 830,1372 833.3,1372 833.3,1376 815,1382.2 804.1,1375.4"/>
</g>
<rect x="725.5" y="1365" width="4" height="12" fill="#fff"/>
<path d="M725.5,1365V1377M729.5,1365V1377M724.5,1373L727.5,1370L726.5,1369L730.5,1366" stroke="#333" stroke-width="0.6" fill="none"/>

<!-- BOTTOM NOTES -->
<circle cx="55.6" cy="1453.5" r="10.5" fill="#9fa0a0"/>
<text x="66.5" y="1462" font-size="22" textLength="600" lengthAdjust="spacingAndGlyphs">上述系统构成仅为一个示例，也可依需要设计其他各种组合。</text>
<rect x="43.2" y="1468.7" width="63.6" height="24.3" fill="#fff" stroke="#231815" stroke-width="1.4"/>
<text x="49" y="1489" font-size="17.5" textLength="53" lengthAdjust="spacingAndGlyphs">请注意</text>
<circle cx="52.8" cy="1506" r="9" fill="#9fa0a0"/>
<text x="63.3" y="1513.3" font-size="17.5" textLength="900" lengthAdjust="spacingAndGlyphs">从电动机出线的电动机电缆线及电磁制动电缆线不能直接连接到驱动器。连接到驱动器时，请使用连接用电缆线。</text>
</svg>
</body></html>
